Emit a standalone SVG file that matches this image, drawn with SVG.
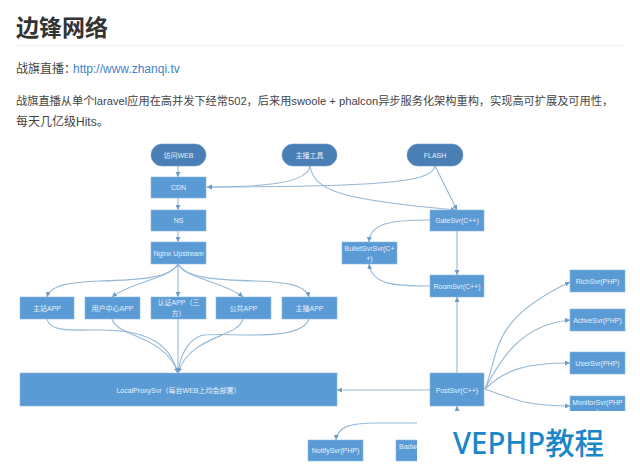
<svg xmlns="http://www.w3.org/2000/svg" width="640" height="472" viewBox="0 0 640 472">
<style>
.t{font-family:"Liberation Sans","Noto Sans CJK SC",sans-serif}
.n{fill:#5b9bd5;stroke:#8db9e0;stroke-width:.6}
.p{fill:#4a7fb6;stroke:#6b9ac8;stroke-width:.6}
.l{font-family:"Liberation Sans","Noto Sans CJK SC",sans-serif;font-size:7px;fill:#e6f0fa;text-anchor:middle}
.b{font-family:"Liberation Sans","Noto Sans CJK SC",sans-serif;font-size:12px;fill:#444}
#c path{fill:none;stroke:#96b8d6;stroke-width:1.1;marker-end:url(#a)}
</style>
<defs><marker id="a" markerUnits="userSpaceOnUse" markerWidth="6" markerHeight="6" refX="5" refY="2.5" orient="auto"><path d="M0 0L5 2.500L0 5Z" fill="#6f9cc4"/></marker></defs>
<rect width="640" height="472" fill="#fff"/>
<text class="t" x="16" y="36" font-size="23" font-weight="bold" fill="#333">边锋网络</text>
<rect x="16" y="45" width="609" height="1" fill="#eee"/>
<text class="b" x="16" y="73">战旗直播：<tspan x="73" fill="#4183c4">http://www.zhanqi.tv</tspan></text>
<text class="b" x="16" y="105" style="font-size:11.200px">战旗直播从单个laravel应用在高并发下经常502，后来用swoole + phalcon异步服务化架构重构，实现高可扩展及可用性，</text>
<text class="b" x="16" y="126">每天几亿级Hits。</text>
<g id="c">
<path d="M178 166V177"/><path d="M178 198V210"/><path d="M178 231V242"/>
<path d="M310 166C308 182 270 187 207 187"/>
<path d="M435 166C432 180 400 187 207 187"/>
<path d="M310 166C314 192 345 200 456 210"/>
<path d="M435 166L457 210"/>
<path d="M430 220C395 220 370 222 369 242"/>
<path d="M457 231V275"/>
<path d="M430 286C395 286 372 285 369 264"/>
<path d="M457 373V297"/>
<path d="M178 264C170 278 140 280 100 281C70 282 50 285 47 297"/>
<path d="M178 264C172 278 130 282 112 297"/>
<path d="M178 264V297"/>
<path d="M178 264C184 278 225 282 243 297"/>
<path d="M178 264C186 278 216 280 256 281C286 282 306 285 309 297"/>
<path d="M47 319C50 332 70 330 100 330C150 330 170 345 178 373"/>
<path d="M112 319C118 338 165 335 178 373"/>
<path d="M178 319V373"/>
<path d="M243 319C238 338 190 335 178 373"/>
<path d="M309 319C300 345 215 330 200 336C188 341 180 355 178 373"/>
<path d="M430 390H337"/>
<path d="M485 389C500 350 490 320 570 282"/>
<path d="M485 389C500 360 520 325 570 320"/>
<path d="M485 389C505 370 525 363 570 363"/>
<path d="M485 389C510 398 525 406 570 406"/>
<path d="M417 423H375C350 423 337 427 336 440"/>
<path d="M457 415V406"/>
</g>
<g id="n1"><rect class="p" x="151" y="144" width="55" height="22" rx="11"/><text class="l" x="178.500" y="158">访问WEB</text></g>
<g id="n2"><rect class="p" x="282" y="144" width="55" height="22" rx="11"/><text class="l" x="309.500" y="158">主播工具</text></g>
<g id="n3"><rect class="p" x="407" y="144" width="56" height="22" rx="11"/><text class="l" x="435" y="158">FLASH</text></g>
<g id="n4"><rect class="n" x="151" y="177" width="55" height="21"/><text class="l" x="178.500" y="190">CDN</text></g>
<g id="n5"><rect class="n" x="151" y="210" width="55" height="21"/><text class="l" x="178.500" y="223">NS</text></g>
<g id="n6"><rect class="n" x="151" y="242" width="55" height="22"/><text class="l" x="178.500" y="256">Nginx Upstream</text></g>
<g id="n7"><rect class="n" x="20" y="297" width="54" height="22"/><text class="l" x="47" y="311">主站APP</text></g>
<g id="n8"><rect class="n" x="85" y="297" width="55" height="22"/><text class="l" x="112.500" y="311">用户中心APP</text></g>
<g id="n9"><rect class="n" x="151" y="297" width="55" height="22"/><text class="l" x="178.500" y="305">认证APP（三</text><text class="l" x="178.500" y="316">方）</text></g>
<g id="n10"><rect class="n" x="216" y="297" width="55" height="22"/><text class="l" x="243.500" y="311">公共APP</text></g>
<g id="n11"><rect class="n" x="282" y="297" width="55" height="22"/><text class="l" x="309.500" y="311">主播APP</text></g>
<g id="n12"><rect class="n" x="20" y="373" width="317" height="33"/><text class="l" x="178.500" y="393">LocalProxySvr（每台WEB上均会部署）</text></g>
<g id="n13"><rect class="n" x="430" y="210" width="54" height="21"/><text class="l" x="457" y="223">GateSvr(C++)</text></g>
<g id="n14"><rect class="n" x="342" y="242" width="55" height="22"/><text class="l" x="369.500" y="251">BulletSvrSvr(C+</text><text class="l" x="369.500" y="261">+)</text></g>
<g id="n15"><rect class="n" x="430" y="275" width="54" height="22"/><text class="l" x="457" y="289">RoomSvr(C++)</text></g>
<g id="n16"><rect class="n" x="430" y="373" width="54" height="33"/><text class="l" x="457" y="393">PostSvr(C++)</text></g>
<g id="n17"><rect class="n" x="570" y="270" width="55" height="22"/><text class="l" x="597.500" y="284">RichSvr(PHP)</text></g>
<g id="n18"><rect class="n" x="570" y="309" width="55" height="22"/><text class="l" x="597.500" y="323">ActiveSvr(PHP)</text></g>
<g id="n19"><rect class="n" x="570" y="352" width="55" height="22"/><text class="l" x="597.500" y="366">UserSvr(PHP)</text></g>
<g id="n20"><rect class="n" x="570" y="396" width="55" height="22"/><text class="l" x="597.500" y="405">MonitorSvr(PHP</text><text class="l" x="597.500" y="414">)</text></g>
<g id="n21"><rect class="n" x="308" y="440" width="55" height="21"/><text class="l" x="335.500" y="453">NotifySvr(PHP)</text></g>
<g id="n22"><rect class="n" x="396" y="440" width="55" height="21"/><text class="l" x="399" y="449" style="text-anchor:start">Badwor</text></g>
<rect x="417" y="411" width="223" height="61" fill="#fff"/>
<text x="453" y="454" font-family="'Noto Sans','Noto Sans CJK SC',sans-serif" font-weight="500" font-size="30" fill="#1b86c8" textLength="151" lengthAdjust="spacingAndGlyphs">VEPHP教程</text>
</svg>
